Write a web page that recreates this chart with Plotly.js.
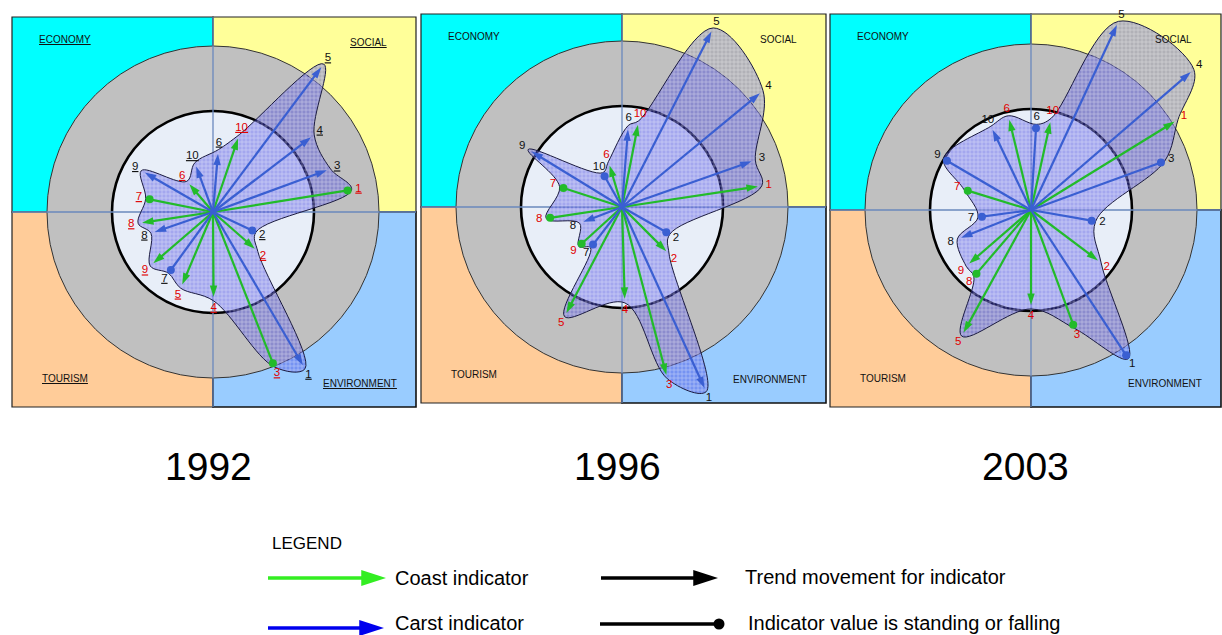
<!DOCTYPE html>
<html>
<head>
<meta charset="utf-8">
<script src="https://cdn.plot.ly/plotly-3.0.1.min.js"></script>
<style>html,body{margin:0;padding:0;background:#fff;}#chart{width:1222px;height:635px;}</style>
</head>
<body>
<div id="chart"></div>
<script>
// ---------------- DATA (values in units of the inner "standing" circle radius; angles in degrees) ----------------
const years = ['1992', '1996', '2003'];
const quadrantNames = ['ECONOMY', 'SOCIAL', 'TOURISM', 'ENVIRONMENT'];
const indicatorLabels = ['1', '2', '3', '4', '5', '6', '7', '8', '9', '10'];

// Carst indicators
const carstValue1992 = [1.76, 0.43, 1.20, 1.22, 1.79, 0.58, 0.71, 0.61, 0.78, 0.48];
const carstAngle1992 = [-59.6, -25.2, 20.1, 37.3, 53.2, 85.1, 234.0, 199.0, 150.0, 110.3];
const carstEnd1992   = ['arrow', 'dot', 'arrow', 'arrow', 'arrow', 'arrow', 'dot', 'arrow', 'arrow', 'arrow'];

const carstValue1996 = [1.97, 0.505, 1.36, 1.77, 1.95, 0.77, 0.47, 0.41, 1.05, 0.35];
const carstAngle1996 = [-65.5, -29.7, 19.4, 39.5, 63.0, 85.6, 232.4, 201.0, 148.5, 119.5];
const carstEnd1996   = ['arrow', 'dot', 'arrow', 'arrow', 'arrow', 'arrow', 'dot', 'arrow', 'arrow', 'dot'];

const carstValue2003 = [1.72, 0.61, 1.37, 2.09, 2.02, 0.81, 0.49, 0.745, 0.965, 0.88];
const carstAngle2003 = [-56.8, -10.0, 20.1, 40.8, 65.1, 86.5, 187.7, 201.6, 149.6, 115.6];
const carstEnd2003   = ['dot', 'dot', 'dot', 'arrow', 'arrow', 'dot', 'dot', 'arrow', 'dot', 'arrow'];

// Coast indicators
const coastValue1992 = [1.35, 0.55, 1.61, 0.84, 0.78, 0.36, 0.64, 0.71, 0.78, 0.77];
const coastAngle1992 = [9.1, -41.3, -68.4, -89.6, 247.0, 130.5, 168.7, 188.6, 220.7, 71.2];
const coastEnd1992   = ['dot', 'arrow', 'dot', 'arrow', 'arrow', 'arrow', 'dot', 'arrow', 'arrow', 'arrow'];

const coastValue1996 = [1.36, 0.62, 1.72, 0.91, 1.185, 0.43, 0.61, 0.72, 0.54, 0.83];
const coastAngle1996 = [8.6, -45.0, -75.2, -88.3, 242.3, 106.6, 162.0, 188.6, 222.3, 79.0];
const coastEnd1996   = ['arrow', 'arrow', 'arrow', 'arrow', 'arrow', 'arrow', 'dot', 'dot', 'dot', 'arrow'];

const coastValue2003 = [1.67, 0.83, 1.21, 0.94, 1.385, 0.92, 0.655, 0.83, 0.81, 0.89];
const coastAngle2003 = [31.6, -37.0, -69.8, -90.0, 241.2, 103.5, 163.0, 229.4, 220.9, 77.6];
const coastEnd2003   = ['arrow', 'arrow', 'dot', 'arrow', 'arrow', 'arrow', 'dot', 'dot', 'arrow', 'arrow'];

const legendLabels = ['Coast indicator', 'Carst indicator', 'Trend movement for indicator', 'Indicator value is standing or falling'];

// ---------------- LAYOUT / STYLE ----------------
const W = 1222, H = 635;
const UNIT = 101;          // px per value unit (inner circle radius)
const R_OUTER = 166;       // grey ring radius (px)
const FONT = 'Liberation Sans, Arial, sans-serif';
const panels = [
  {x0: 12,  x1: 416,  y0: 17, y1: 407, cx: 213,  cy: 212, under: true,
   carst: [carstValue1992, carstAngle1992, carstEnd1992], coast: [coastValue1992, coastAngle1992, coastEnd1992]},
  {x0: 421, x1: 826,  y0: 14, y1: 403, cx: 622,  cy: 207, under: false,
   carst: [carstValue1996, carstAngle1996, carstEnd1996], coast: [coastValue1996, coastAngle1996, coastEnd1996]},
  {x0: 830, x1: 1221, y0: 14, y1: 407, cx: 1031, cy: 210, under: false,
   carst: [carstValue2003, carstAngle2003, carstEnd2003], coast: [coastValue2003, coastAngle2003, coastEnd2003]}
];
const CARST_COLOR = '#3a5fd2';
const COAST_COLOR = '#22bb2a';

const shapes = [];
const annotations = [];
const traces = [];

function pt(p, v, a, extra) {
  const r = v * UNIT + (extra || 0);
  const t = a * Math.PI / 180;
  return [p.cx + r * Math.cos(t), p.cy - r * Math.sin(t)];
}

panels.forEach((p, k) => {
  const ln = {color: '#222', width: 1.2};
  shapes.push({type: 'rect', layer: 'below', x0: p.x0, x1: p.cx, y0: p.y0, y1: p.cy, fillcolor: '#00ffff', line: ln});
  shapes.push({type: 'rect', layer: 'below', x0: p.cx, x1: p.x1, y0: p.y0, y1: p.cy, fillcolor: '#ffff99', line: ln});
  shapes.push({type: 'rect', layer: 'below', x0: p.x0, x1: p.cx, y0: p.cy, y1: p.y1, fillcolor: '#ffcc99', line: ln});
  shapes.push({type: 'rect', layer: 'below', x0: p.cx, x1: p.x1, y0: p.cy, y1: p.y1, fillcolor: '#99ccff', line: {color: '#111', width: 1.6}});
  shapes.push({type: 'circle', layer: 'below', x0: p.cx - R_OUTER, x1: p.cx + R_OUTER, y0: p.cy - R_OUTER, y1: p.cy + R_OUTER,
               fillcolor: '#c0c0c0', line: {color: '#333', width: 1}});
  shapes.push({type: 'circle', layer: 'below', x0: p.cx - UNIT, x1: p.cx + UNIT, y0: p.cy - UNIT, y1: p.cy + UNIT,
               fillcolor: '#e8eef8', line: {color: '#000', width: 2.6}});
  shapes.push({type: 'line', layer: 'below', x0: p.x0, x1: p.x1, y0: p.cy, y1: p.cy, line: {color: '#6a88bd', width: 1.3}});
  shapes.push({type: 'line', layer: 'below', x0: p.cx, x1: p.cx, y0: p.y0, y1: p.y1, line: {color: '#6a88bd', width: 1.3}});

  // Quadrant captions
  const u = s => p.under ? '<u>' + s + '</u>' : s;
  const capPos = [[p.cx - 148, p.y0 + 22], [p.x1 - 48, p.y0 + 25], [p.cx - 148, p.y1 - 29], [p.x1 - 56, p.y1 - 24]];
  quadrantNames.forEach((q, i) => {
    annotations.push({x: capPos[i][0], y: capPos[i][1], xref: 'x', yref: 'y', text: u(q), showarrow: false,
                      font: {family: FONT, size: 10, color: '#111'}});
  });
  // Year caption
  annotations.push({x: p.cx - 5 + (k === 2 ? -1 : 0), y: 466, xref: 'x', yref: 'y', text: years[k], showarrow: false,
                    font: {family: FONT, size: 39, color: '#000'}});

  // Blob: smooth envelope through all indicator tips, sorted by angle
  const env = [];
  [p.carst, p.coast].forEach(s => {
    s[0].forEach((v, i) => {
      let a = s[1][i]; a = ((a % 360) + 360) % 360;
      env.push({a: a, v: v});
    });
  });
  env.sort((m, n) => m.a - n.a);
  const bx = [], by = [];
  env.forEach(e => { const q = pt(p, e.v, e.a, 4); bx.push(q[0]); by.push(q[1]); });
  bx.push(bx[0]); by.push(by[0]);
  traces.push({x: bx, y: by, mode: 'lines', fill: 'toself', hoverinfo: 'skip',
               line: {shape: 'spline', smoothing: 1, color: '#1a1a40', width: 1},
               fillcolor: 'rgba(70,70,225,0.42)',
               fillpattern: {shape: '+', fgcolor: 'rgba(255,255,255,0.55)', bgcolor: 'rgba(70,70,225,0.42)',
                             size: 4, solidity: 0.25, fillmode: 'replace'}});

  // Arrows
  [[p.coast, COAST_COLOR, '#e00000'], [p.carst, CARST_COLOR, '#111']].forEach(([s, col, tcol]) => {
    const x = [], y = [], sym = [], sz = [];
    const tx = [], ty = [], tt = [];
    s[0].forEach((v, i) => {
      const q = pt(p, v, s[1][i]);
      x.push(p.cx, q[0], null); y.push(p.cy, q[1], null);
      const isArrow = s[2][i] === 'arrow';
      sym.push('circle', isArrow ? 'arrow' : 'circle', 'circle');
      sz.push(0, isArrow ? 12 : 8, 0);
      const lq = pt(p, v, s[1][i], 11);
      tx.push(lq[0]); ty.push(lq[1]); tt.push(u(indicatorLabels[i]));
    });
    traces.push({x: x, y: y, mode: 'lines+markers', hoverinfo: 'skip',
                 line: {color: col, width: 2.2},
                 marker: {symbol: sym, size: sz, color: col, opacity: 1, angleref: 'previous', line: {width: 0}}});
    traces.push({x: tx, y: ty, mode: 'text', text: tt, hoverinfo: 'skip',
                 textfont: {family: FONT, size: 11.5, color: tcol}});
  });
});

// ---------------- LEGEND ----------------
annotations.push({x: 270, y: 543, xref: 'x', yref: 'y', xanchor: 'left', text: 'LEGEND', showarrow: false,
                  font: {family: FONT, size: 17, color: '#000'}});
const legX = [393, 393, 743, 746], legY = [578, 623, 577, 623];
legendLabels.forEach((t, i) => {
  annotations.push({x: legX[i], y: legY[i], xref: 'x', yref: 'y', xanchor: 'left', text: t, showarrow: false,
                    font: {family: FONT, size: 20, color: '#000'}});
});
const legendMarks = [
  {x: [268, 386], y: [578, 578], c: '#33ee22', s: 'arrow', z: 26},
  {x: [268, 384], y: [628, 628], c: '#0000ee', s: 'arrow', z: 26},
  {x: [601, 718], y: [578, 578], c: '#000000', s: 'arrow', z: 26},
  {x: [600, 719], y: [624, 624], c: '#000000', s: 'circle', z: 11}
];
legendMarks.forEach(m => {
  traces.push({x: m.x, y: m.y, mode: 'lines+markers', hoverinfo: 'skip', line: {color: m.c, width: 3.5},
               marker: {symbol: ['circle', m.s], size: [0, m.z], color: m.c, opacity: 1, angleref: 'previous', line: {width: 0}}});
});

const layout = {
  width: W, height: H, margin: {l: 0, r: 0, t: 0, b: 0},
  paper_bgcolor: '#ffffff', plot_bgcolor: '#ffffff', showlegend: false,
  xaxis: {range: [0, W], visible: false, fixedrange: true},
  yaxis: {range: [H, 0], visible: false, fixedrange: true},
  shapes: shapes, annotations: annotations
};
Plotly.newPlot('chart', traces, layout, {staticPlot: true, displayModeBar: false});
</script>
</body>
</html>
